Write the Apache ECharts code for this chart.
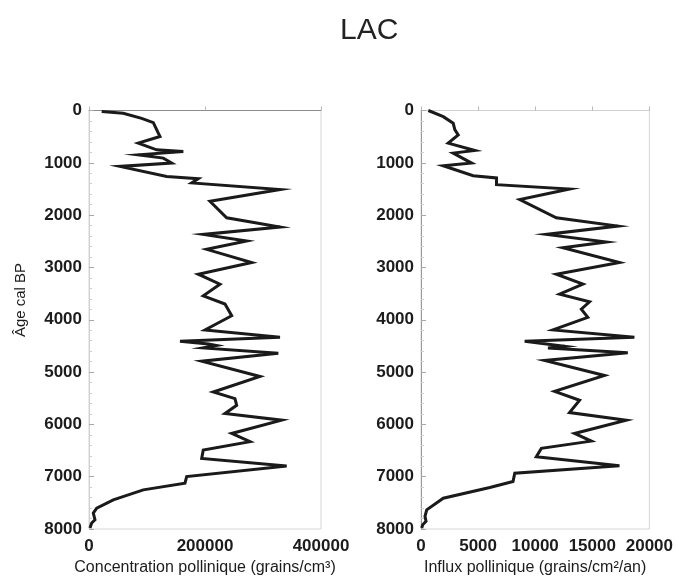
<!DOCTYPE html>
<html>
<head>
<meta charset="utf-8">
<title>LAC</title>
<script src="https://cdn.jsdelivr.net/npm/echarts@6/dist/echarts.min.js"></script>
<style>
  html, body { margin: 0; padding: 0; background: #fff; }
  #chart { width: 676px; height: 581px; }
</style>
</head>
<body>
<div id="chart"></div>
<script>
// Pollen concentration profile (grains/cm3) against calibrated age
const concAges = [20, 53, 150, 232, 434, 498, 624, 751, 783, 847, 910, 1005, 1069, 1260, 1303, 1385,
  1512, 1735, 2051, 2229, 2369, 2496, 2654, 2907, 3130, 3320, 3543, 3700, 3923, 4195, 4335, 4410,
  4462, 4493, 4538, 4640, 4792, 5084, 5381, 5508, 5636, 5793, 5920, 6174, 6332, 6491, 6650, 6795,
  6998, 7125, 7252, 7443, 7601, 7696, 7823, 7886, 7981];
const concValues = [21900, 59000, 90800, 110900, 119500, 122400, 85000, 116700, 162600, 85000, 128100,
  142600, 53400, 134000, 188400, 177000, 329300, 208600, 237400, 329300, 197000, 271900, 202900,
  280500, 188400, 225800, 197000, 234500, 246000, 200000, 329300, 156900, 205700, 220000, 197000,
  326400, 194300, 294800, 214300, 251700, 254600, 234500, 332200, 246000, 277600, 197000, 194300,
  340800, 168400, 165500, 93600, 41900, 13300, 7400, 10300, 4600, 1700];

// Pollen influx profile (grains/cm2/yr) against calibrated age
const influxAges = [0, 118, 244, 371, 466, 624, 765, 815, 1005, 1056, 1246, 1290, 1417, 1500, 1703,
  2051, 2210, 2369, 2515, 2622, 2907, 3130, 3320, 3510, 3657, 3796, 3954, 4195, 4335, 4410, 4462,
  4506, 4538, 4633, 4779, 5065, 5369, 5540, 5774, 5920, 6174, 6320, 6459, 6617, 6789, 6935, 7093,
  7207, 7411, 7633, 7759, 7854, 7918, 7981];
const influxValues = [640, 1950, 2820, 2970, 3260, 2380, 4720, 2820, 4430, 1950, 4570, 6610, 6610,
  13010, 8650, 11850, 17230, 10980, 16220, 12430, 17380, 11850, 14180, 12140, 14760, 14040, 14610,
  11560, 18690, 9080, 10980, 12580, 11120, 18110, 10830, 16070, 11700, 13890, 13010, 17970, 13450,
  14910, 10540, 10100, 17380, 8210, 8060, 6030, 1950, 500, 350, 440, 150, 60];

// Axis ranges and tick steps
const ageRange = [0, 8000], ageStep = 1000;
const concRange = [0, 400000], concStep = 200000;
const influxRange = [0, 20000], influxStep = 5000;

const titleText = 'LAC';
const ageName = 'Âge cal BP';
const concName = 'Concentration pollinique (grains/cm³)';
const influxName = 'Influx pollinique (grains/cm²/an)';

const FONT = '"Liberation Sans", Arial, Helvetica, sans-serif';
const tickLabel = {
  fontFamily: FONT, fontSize: 17, fontWeight: 'bold', color: '#1c1c1c',
  formatter: v => String(v)
};

function pairs(vals, ages) { return vals.map((v, i) => [v, ages[i]]); }

function yAxisOf(gridIndex, lineColor) {
  return {
    type: 'value', gridIndex, inverse: true,
    min: ageRange[0], max: ageRange[1], interval: ageStep,
    axisLine: { show: true, lineStyle: { color: lineColor, width: 1 } },
    axisTick: { show: true, inside: true, length: 5, lineStyle: { color: '#a8a8a8' } },
    minorTick: { show: true, splitNumber: 5, length: 3, lineStyle: { color: '#cfcfcf' } },
    splitLine: { show: false },
    axisLabel: Object.assign({ margin: 7 }, tickLabel)
  };
}

function xAxisOf(gridIndex, range, step, name, lineColor) {
  return {
    type: 'value', gridIndex, position: 'bottom',
    min: range[0], max: range[1], interval: step,
    name, nameLocation: 'middle', nameGap: 31,
    nameTextStyle: { fontFamily: FONT, fontSize: 16, color: '#1c1c1c' },
    axisLine: { show: true, lineStyle: { color: lineColor, width: 1 } },
    axisTick: { show: true, inside: true, length: 4, lineStyle: { color: '#b8b8b8' } },
    minorTick: { show: false },
    splitLine: { show: false },
    axisLabel: Object.assign({ margin: 9 }, tickLabel)
  };
}

const lineStyle = { color: '#1a1a1a', width: 3, join: 'miter' };

const chart = echarts.init(document.getElementById('chart'), null, { renderer: 'canvas' });
chart.setOption({
  backgroundColor: '#ffffff',
  animation: false,
  title: {
    text: titleText, left: 335, top: 11,
    textStyle: { fontFamily: FONT, fontSize: 30, fontWeight: 'normal', color: '#222' }
  },
  grid: [
    { left: 89, right: 355, top: 110.5, bottom: 50, show: true, borderColor: '#d6d6d6', borderWidth: 1 },
    { left: 421, right: 26, top: 110.5, bottom: 50, show: true, borderColor: '#d6d6d6', borderWidth: 1 }
  ],
  xAxis: [
    xAxisOf(0, concRange, concStep, concName, '#8c8c8c'),
    xAxisOf(1, influxRange, influxStep, influxName, '#cfcfcf')
  ],
  yAxis: [
    yAxisOf(0, '#d0d0d0'),
    yAxisOf(1, '#9a9a9a')
  ],
  graphic: [{
    type: 'text', x: 21, y: 300, rotation: Math.PI / 2,
    style: {
      text: ageName, fontFamily: FONT, fontSize: 15, fill: '#1c1c1c',
      align: 'center', verticalAlign: 'middle'
    }
  }],
  series: [
    { type: 'line', xAxisIndex: 0, yAxisIndex: 0, data: pairs(concValues, concAges),
      showSymbol: false, lineStyle, silent: true },
    { type: 'line', xAxisIndex: 1, yAxisIndex: 1, data: pairs(influxValues, influxAges),
      showSymbol: false, lineStyle, silent: true }
  ]
});
</script>
</body>
</html>
